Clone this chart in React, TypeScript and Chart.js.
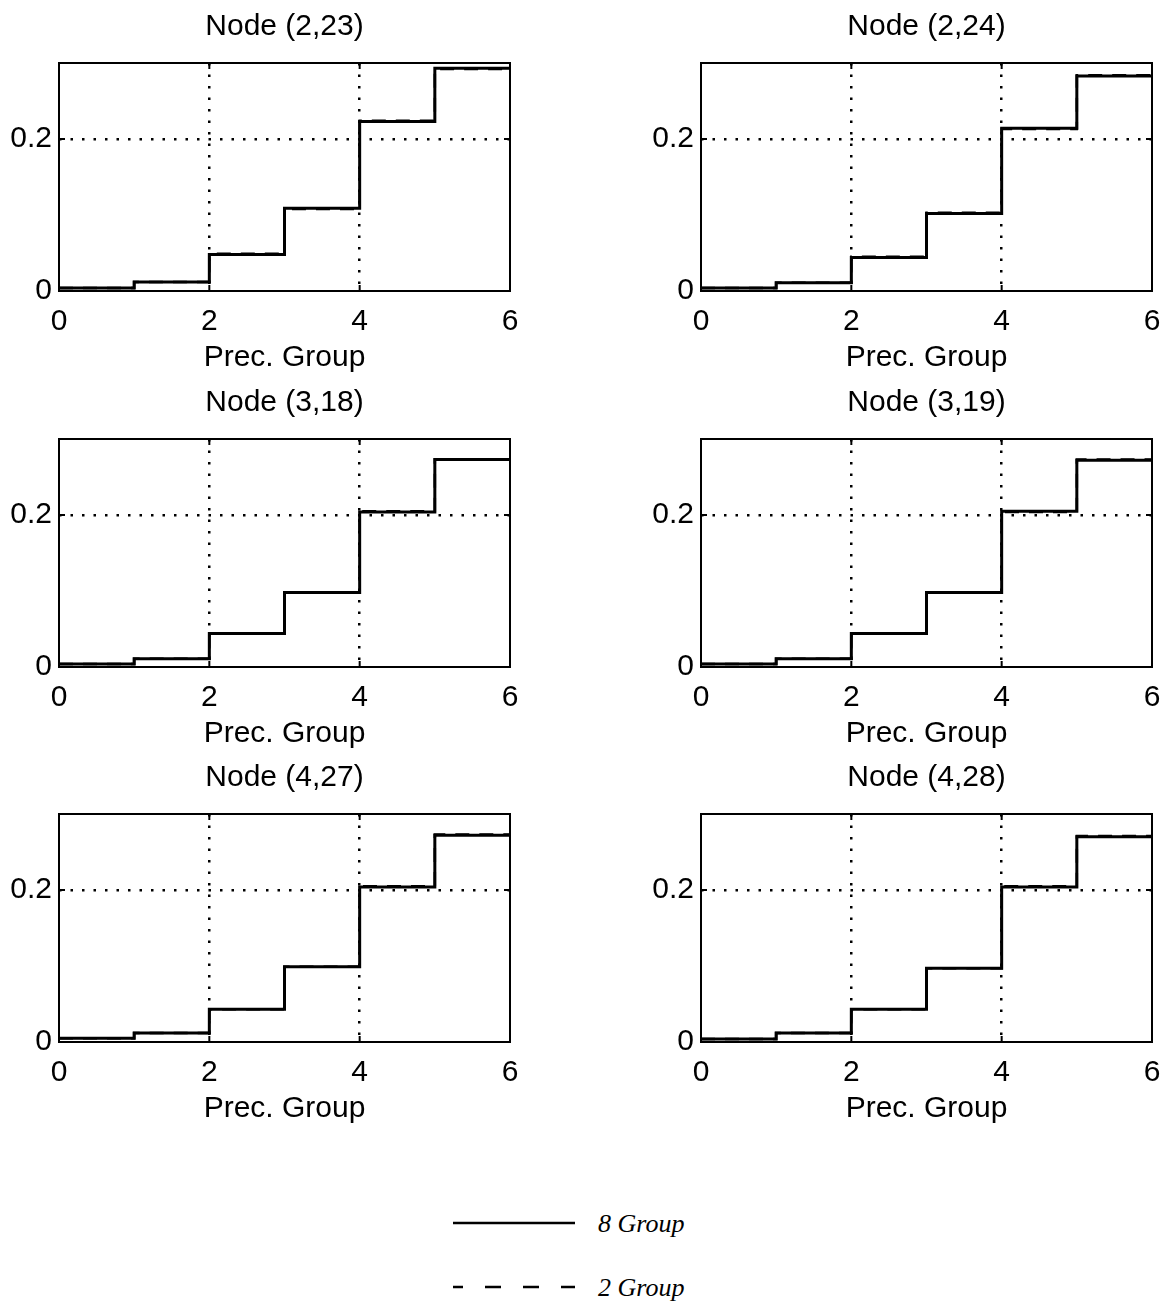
import React, { useEffect, useRef } from "react";
import { Chart, registerables } from "chart.js";

Chart.register(...registerables);

// Precedence-group edges (stairs are drawn from each edge to the next)
const PREC_GROUPS = [0, 1, 2, 3, 4, 5, 6];
const X_TICKS = [0, 2, 4, 6];
const Y_TICKS = [0, 0.2];
const Y_MAX = 0.3;

const NODE_TITLES = [
  "Node (2,23)",
  "Node (2,24)",
  "Node (3,18)",
  "Node (3,19)",
  "Node (4,27)",
  "Node (4,28)",
];

// 8-group probabilities per precedence group
const G8_N2_23 = [0.004, 0.012, 0.048, 0.109, 0.223, 0.293];
const G8_N2_24 = [0.004, 0.011, 0.044, 0.102, 0.214, 0.283];
const G8_N3_18 = [0.004, 0.011, 0.044, 0.098, 0.204, 0.273];
const G8_N3_19 = [0.004, 0.011, 0.044, 0.098, 0.205, 0.272];
const G8_N4_27 = [0.005, 0.012, 0.043, 0.099, 0.204, 0.272];
const G8_N4_28 = [0.004, 0.012, 0.043, 0.097, 0.204, 0.270];

// 2-group probabilities per precedence group
const G2_N2_23 = [0.004, 0.012, 0.049, 0.108, 0.224, 0.292];
const G2_N2_24 = [0.004, 0.011, 0.045, 0.103, 0.213, 0.284];
const G2_N3_18 = [0.004, 0.011, 0.044, 0.098, 0.205, 0.273];
const G2_N3_19 = [0.004, 0.011, 0.044, 0.098, 0.204, 0.273];
const G2_N4_27 = [0.005, 0.012, 0.043, 0.099, 0.205, 0.273];
const G2_N4_28 = [0.004, 0.012, 0.043, 0.097, 0.205, 0.271];

const GROUP8 = [G8_N2_23, G8_N2_24, G8_N3_18, G8_N3_19, G8_N4_27, G8_N4_28];
const GROUP2 = [G2_N2_23, G2_N2_24, G2_N3_18, G2_N3_19, G2_N4_27, G2_N4_28];

const LEGEND_LABELS = ["8 Group", "2 Group"];

const FONT_FAMILY = "'Liberation Sans', Arial, Helvetica, sans-serif";
const PLOT_LEFT = 59;
const PLOT_RIGHT = 510;
const PLOT_BOTTOM = 291;
// canvas is symmetric about the plot centre so the title sits over the axes
const CANVAS_W = PLOT_LEFT + PLOT_RIGHT;
const CANVAS_H = 376;
const COL_LEFT = [0, 642];
const ROW_TOP = [0, 376, 751];

const stairs = (vals: number[]) =>
  PREC_GROUPS.map((x, i) => ({ x, y: vals[Math.min(i, vals.length - 1)] }));

const framePlugin = {
  id: "frame",
  afterDatasetsDraw(chart: any) {
    const { ctx, chartArea, scales } = chart;
    const { left, top, right, bottom } = chartArea;
    ctx.save();
    ctx.strokeStyle = "#000";
    ctx.lineWidth = 2;
    ctx.strokeRect(left, top, right - left, bottom - top);
    const tick = 6;
    ctx.beginPath();
    X_TICKS.forEach((v) => {
      const px = scales.x.getPixelForValue(v);
      ctx.moveTo(px, bottom);
      ctx.lineTo(px, bottom - tick);
      ctx.moveTo(px, top);
      ctx.lineTo(px, top + tick);
    });
    Y_TICKS.forEach((v) => {
      const py = scales.y.getPixelForValue(v);
      ctx.moveTo(left, py);
      ctx.lineTo(left + tick, py);
      ctx.moveTo(right, py);
      ctx.lineTo(right - tick, py);
    });
    ctx.stroke();
    ctx.restore();
  },
};

function NodePanel(props: { title: string; g8: number[]; g2: number[]; left: number; top: number }) {
  const ref = useRef<HTMLCanvasElement | null>(null);

  useEffect(() => {
    if (!ref.current) return;
    const font = { family: FONT_FAMILY, size: 30, weight: "normal" as const, lineHeight: 1.2 };
    const chart = new Chart(ref.current, {
      type: "line",
      data: {
        datasets: [
          {
            label: LEGEND_LABELS[0],
            data: stairs(props.g8),
            stepped: true,
            borderColor: "#000",
            borderWidth: 3,
            pointRadius: 0,
            fill: false,
          },
          {
            label: LEGEND_LABELS[1],
            data: stairs(props.g2),
            stepped: true,
            borderColor: "#000",
            borderWidth: 2.5,
            borderDash: [14, 10],
            pointRadius: 0,
            fill: false,
          },
        ],
      },
      options: {
        responsive: false,
        animation: false,
        layout: { padding: 0 },
        plugins: {
          legend: { display: false },
          tooltip: { enabled: false },
          title: {
            display: true,
            text: props.title,
            color: "#000",
            font,
            padding: { top: 9, bottom: 18 },
          },
        },
        scales: {
          x: {
            type: "linear",
            position: "bottom",
            min: 0,
            max: 6,
            afterBuildTicks: (s: any) => {
              s.ticks = X_TICKS.map((value) => ({ value }));
            },
            afterFit: (s: any) => {
              s.height = CANVAS_H - PLOT_BOTTOM;
            },
            ticks: { color: "#000", font, padding: 13, maxRotation: 0, autoSkip: false },
            grid: {
              color: (c: any) =>
                c.tick && (c.tick.value === 2 || c.tick.value === 4) ? "#000" : "rgba(0,0,0,0)",
              lineWidth: 2.5,
              drawTicks: false,
            },
            border: { display: false, dash: [2.5, 9] },
            title: { display: true, text: "Prec. Group", color: "#000", font, padding: 0 },
          },
          y: {
            type: "linear",
            position: "left",
            min: 0,
            max: Y_MAX,
            afterBuildTicks: (s: any) => {
              s.ticks = Y_TICKS.map((value) => ({ value }));
            },
            afterFit: (s: any) => {
              s.width = PLOT_LEFT;
            },
            ticks: { color: "#000", font, padding: 7 },
            grid: {
              color: (c: any) => (c.tick && c.tick.value === 0.2 ? "#000" : "rgba(0,0,0,0)"),
              lineWidth: 2.5,
              drawTicks: false,
            },
            border: { display: false, dash: [2.5, 9] },
          },
          y2: {
            type: "linear",
            position: "right",
            display: true,
            afterFit: (s: any) => {
              s.width = CANVAS_W - PLOT_RIGHT;
            },
            ticks: { display: false },
            grid: { display: false },
            border: { display: false },
          },
        },
      },
      plugins: [framePlugin],
    } as any);
    return () => chart.destroy();
  }, [props.title, props.g8, props.g2]);

  return (
    <canvas
      ref={ref}
      width={CANVAS_W}
      height={CANVAS_H}
      style={{ position: "absolute", left: props.left, top: props.top, width: CANVAS_W, height: CANVAS_H }}
    />
  );
}

export default function App() {
  return (
    <div
      style={{
        position: "absolute",
        left: 0,
        top: 0,
        width: 1168,
        height: 1302,
        background: "#fff",
        overflow: "hidden",
      }}
    >
      {NODE_TITLES.map((t, i) => (
        <NodePanel
          key={t}
          title={t}
          g8={GROUP8[i]}
          g2={GROUP2[i]}
          left={COL_LEFT[i % 2]}
          top={ROW_TOP[Math.floor(i / 2)]}
        />
      ))}
      <svg
        width={1168}
        height={112}
        style={{ position: "absolute", left: 0, top: 1190 }}
      >
        <line x1={453} x2={575} y1={33} y2={33} stroke="#000" strokeWidth={2.5} />
        <text
          x={598}
          y={42}
          fontFamily="'Liberation Serif', 'Times New Roman', serif"
          fontStyle="italic"
          fontSize={26}
          fill="#000"
        >
          {LEGEND_LABELS[0]}
        </text>
        <line
          x1={453}
          x2={575}
          y1={97}
          y2={97}
          stroke="#000"
          strokeWidth={2.5}
          strokeDasharray="16 22"
          strokeDashoffset={6}
        />
        <text
          x={598}
          y={106}
          fontFamily="'Liberation Serif', 'Times New Roman', serif"
          fontStyle="italic"
          fontSize={26}
          fill="#000"
        >
          {LEGEND_LABELS[1]}
        </text>
      </svg>
    </div>
  );
}
